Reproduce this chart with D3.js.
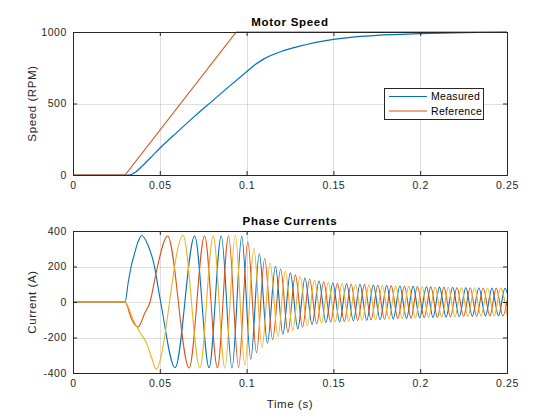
<!DOCTYPE html>
<html>
<head>
<meta charset="utf-8">
<script src="https://cdn.jsdelivr.net/npm/d3@7"></script>
<style>
body { margin: 0; background: #fff; }
svg { font-family: "Liberation Sans", Arial, Helvetica, sans-serif; }
</style>
</head>
<body>
<svg width="560" height="420"></svg>
<script>
// tick labels
var timeTicks = [0, 0.05, 0.1, 0.15, 0.2, 0.25];
var speedTicks = [0, 500, 1000];
var currentTicks = [-400, -200, 0, 200, 400];

// motor speed (RPM)
var speedTime = [0, 0.032, 0.036, 0.04, 0.045, 0.05, 0.06, 0.07, 0.08, 0.09, 0.1, 0.105, 0.11, 0.12, 0.13, 0.14, 0.15, 0.16, 0.175, 0.2, 0.225, 0.25];
var measured = [0, 0, 20, 65, 125, 187, 300, 410, 515, 620, 722, 772, 812, 864, 899, 927, 948, 963, 976, 988, 996, 999];
var refTime = [0, 0.03, 0.094, 0.25];
var reference = [0, 0, 1000, 1000];

// phase currents (A), turning points
var phaseA = [[0, 0], [0.03, 0], [0.0318, 110], [0.0335, 200], [0.0355, 275], [0.0375, 340], [0.0396, 375], [0.0432, 320], [0.0463, 227], [0.0505, 0], [0.0588, -370],
    [0.0701, 372], [0.0784, -370], [0.0854, 372], [0.0916, -372], [0.0972, 370], [0.1024, -322], [0.1073, 272], [0.1120, -232],
    [0.1166, 201], [0.1209, -182], [0.1252, 164], [0.1295, -151], [0.1336, 135], [0.1377, -127], [0.1417, 118], [0.1457, -115],
    [0.1497, 107], [0.1536, -112], [0.1576, 103], [0.1615, -106], [0.1653, 100], [0.1692, -103], [0.1730, 96], [0.1769, -99],
    [0.1807, 93], [0.1845, -95], [0.1883, 90], [0.1921, -92], [0.1959, 88], [0.1997, -89], [0.2036, 86], [0.2074, -87],
    [0.2111, 84], [0.2149, -85], [0.2187, 83], [0.2225, -83], [0.2263, 81], [0.2300, -81], [0.2338, 80], [0.2376, -79],
    [0.2413, 78], [0.2451, -78], [0.2488, 77], [0.2526, -77]];
var phaseB = [[0, 0], [0.03, 0], [0.0335, -90], [0.0360, -132], [0.0375, -140], [0.0390, -120], [0.0410, -70], [0.0444, 0], [0.0482, 180], [0.0545, 372],
    [0.0669, -372], [0.0758, 372], [0.0832, -370], [0.0896, 372], [0.0954, -368], [0.1007, 340], [0.1057, -285], [0.1104, 245],
    [0.1150, -212], [0.1196, 186], [0.1238, -171], [0.1281, 153], [0.1322, -142], [0.1363, 128], [0.1404, -123], [0.1444, 114],
    [0.1484, -113], [0.1523, 106], [0.1563, -110], [0.1602, 100], [0.1640, -104], [0.1679, 98], [0.1717, -101], [0.1756, 94],
    [0.1794, -97], [0.1833, 91], [0.1871, -93], [0.1909, 89], [0.1947, -91], [0.1984, 87], [0.2023, -88], [0.2061, 85],
    [0.2099, -86], [0.2137, 84], [0.2174, -84], [0.2212, 82], [0.2250, -82], [0.2288, 80], [0.2325, -80], [0.2363, 79],
    [0.2401, -79], [0.2438, 78], [0.2476, -78], [0.2513, 77]];
var phaseC = [[0, 0], [0.03, 0], [0.0347, -101], [0.0385, -170], [0.0424, -233], [0.0455, -320], [0.0478, -378],
    [0.0634, 375], [0.0731, -372], [0.0808, 372], [0.0875, -372], [0.0935, 375], [0.0990, -355], [0.1042, 303], [0.1089, -258],
    [0.1135, 220], [0.1181, -195], [0.1223, 175], [0.1266, -160], [0.1308, 145], [0.1350, -133], [0.1391, 122], [0.1431, -118],
    [0.1471, 110], [0.1510, -111], [0.1550, 104], [0.1589, -108], [0.1627, 99], [0.1666, -103], [0.1705, 97], [0.1743, -100],
    [0.1782, 93], [0.1820, -96], [0.1858, 90], [0.1896, -93], [0.1934, 88], [0.1972, -90], [0.2011, 86], [0.2048, -87],
    [0.2086, 84], [0.2124, -85], [0.2162, 83], [0.2200, -84], [0.2238, 81], [0.2275, -82], [0.2313, 80], [0.2350, -80],
    [0.2388, 79], [0.2426, -79], [0.2463, 78], [0.2501, -77]];

var colors = ["#0072BD", "#D95319", "#EDB120"];
var axisColor = "#262626";

var svg = d3.select("svg");
var left = 73, right = 507;

var x = d3.scaleLinear().domain([0, 0.25]).range([left, right]);

function drawAxes(id, top, bottom, yDomain, yTicks, title, ylabel, xlabel) {
    var y = d3.scaleLinear().domain(yDomain).range([bottom, top]);
    var g = svg.append("g");

    g.append("rect")
        .attr("x", left).attr("y", top)
        .attr("width", right - left).attr("height", bottom - top)
        .attr("fill", "#fff");

    // grid
    g.selectAll(".gx").data(timeTicks).enter().append("line")
        .attr("x1", function (d) { return Math.round(x(d)) + 0.5; })
        .attr("x2", function (d) { return Math.round(x(d)) + 0.5; })
        .attr("y1", top).attr("y2", bottom)
        .attr("stroke", axisColor).attr("stroke-opacity", 0.15);
    g.selectAll(".gy").data(yTicks).enter().append("line")
        .attr("x1", left).attr("x2", right)
        .attr("y1", function (d) { return Math.round(y(d)) + 0.5; })
        .attr("y2", function (d) { return Math.round(y(d)) + 0.5; })
        .attr("stroke", axisColor).attr("stroke-opacity", 0.15);

    svg.append("clipPath").attr("id", id)
        .append("rect")
        .attr("x", left).attr("y", top - 1)
        .attr("width", right - left).attr("height", bottom - top + 2);

    var plot = svg.append("g").attr("clip-path", "url(#" + id + ")");

    var frame = svg.append("g");

    frame.append("g")
        .attr("transform", "translate(0," + bottom + ")")
        .call(d3.axisBottom(x).tickValues(timeTicks).tickSize(-4).tickPadding(7)
            .tickFormat(function (d) { return d; }));
    frame.append("g")
        .attr("transform", "translate(0," + top + ")")
        .call(d3.axisTop(x).tickValues(timeTicks).tickSize(-4).tickFormat(""));
    frame.append("g")
        .attr("transform", "translate(" + left + ",0)")
        .call(d3.axisLeft(y).tickValues(yTicks).tickSize(-4).tickPadding(6)
            .tickFormat(function (d) { return d; }));
    frame.append("g")
        .attr("transform", "translate(" + right + ",0)")
        .call(d3.axisRight(y).tickValues(yTicks).tickSize(-4).tickFormat(""));

    frame.selectAll(".domain").attr("stroke", axisColor);
    frame.selectAll(".tick line").attr("stroke", axisColor);
    frame.selectAll(".tick text")
        .attr("fill", axisColor)
        .attr("font-size", "10.5px")
        .attr("font-family", "Liberation Sans, Arial, sans-serif")
        .attr("letter-spacing", "0.6px");

    svg.append("text")
        .attr("x", (left + right) / 2)
        .attr("y", top - 6)
        .attr("text-anchor", "middle")
        .attr("font-size", "11.5px")
        .attr("font-weight", "bold")
        .attr("letter-spacing", "0.7px")
        .attr("fill", "#000")
        .text(title);

    svg.append("text")
        .attr("transform", "translate(" + 36 + "," + (top + bottom) / 2 + ") rotate(-90)")
        .attr("text-anchor", "middle")
        .attr("font-size", "11.5px")
        .attr("letter-spacing", "0.6px")
        .attr("fill", axisColor)
        .text(ylabel);

    if (xlabel) {
        svg.append("text")
            .attr("x", (left + right) / 2)
            .attr("y", bottom + 35)
            .attr("text-anchor", "middle")
            .attr("font-size", "11.5px")
            .attr("letter-spacing", "0.6px")
            .attr("fill", axisColor)
            .text(xlabel);
    }

    return { y: y, plot: plot };
}

// top: motor speed
var s = drawAxes("clipSpeed", 32, 175, [0, 1000], speedTicks, "Motor Speed", "Speed (RPM)");

var speedLine = d3.line()
    .x(function (d) { return x(d[0]); })
    .y(function (d) { return s.y(d[1]); });

s.plot.append("path")
    .datum(speedTime.map(function (t, i) { return [t, measured[i]]; }))
    .attr("fill", "none")
    .attr("stroke", colors[0])
    .attr("stroke-width", 1.2)
    .attr("d", speedLine.curve(d3.curveMonotoneX));

s.plot.append("path")
    .datum(refTime.map(function (t, i) { return [t, reference[i]]; }))
    .attr("fill", "none")
    .attr("stroke", colors[1])
    .attr("stroke-width", 1.2)
    .attr("d", speedLine.curve(d3.curveLinear));

// legend
var lg = svg.append("g");
lg.append("rect")
    .attr("x", 384.5).attr("y", 88.5)
    .attr("width", 99).attr("height", 31)
    .attr("fill", "#fff")
    .attr("stroke", axisColor);
["Measured", "Reference"].forEach(function (name, i) {
    var ly = 96.5 + i * 14.5;
    lg.append("line")
        .attr("x1", 389).attr("x2", 427)
        .attr("y1", ly).attr("y2", ly)
        .attr("stroke", colors[i]).attr("stroke-width", 1.2);
    lg.append("text")
        .attr("x", 431).attr("y", ly + 3.8)
        .attr("font-size", "10.5px")
        .attr("letter-spacing", "0.3px")
        .attr("fill", "#000")
        .text(name);
});

// bottom: phase currents
var c = drawAxes("clipCurrent", 231, 373, [-400, 400], currentTicks, "Phase Currents", "Current (A)", "Time (s)");

var currentLine = d3.line()
    .x(function (d) { return x(d[0]); })
    .y(function (d) { return c.y(d[1]); })
    .curve(d3.curveMonotoneX);

[phaseA, phaseB, phaseC].forEach(function (phase, i) {
    c.plot.append("path")
        .datum(phase)
        .attr("fill", "none")
        .attr("stroke", colors[i])
        .attr("stroke-width", 1.1)
        .attr("d", currentLine);
});
</script>
</body>
</html>
